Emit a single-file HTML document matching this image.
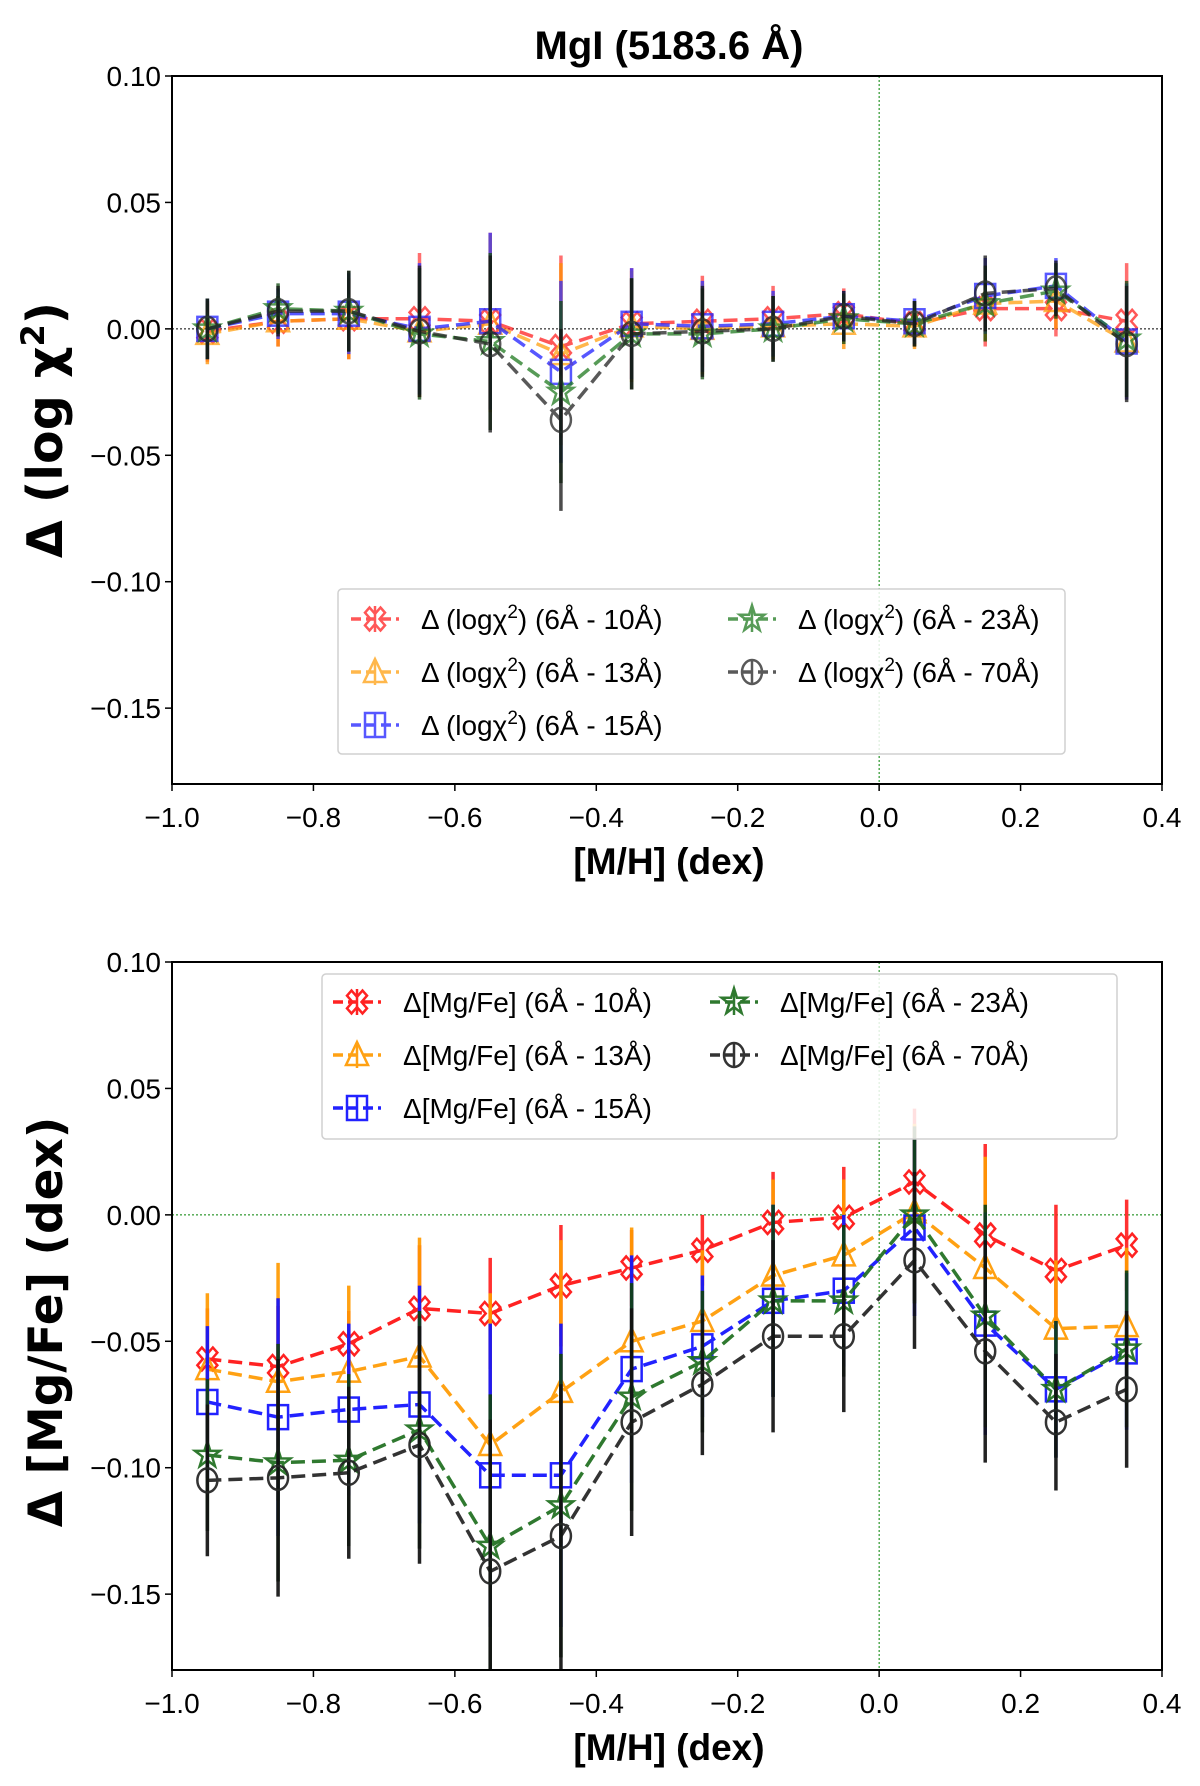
<!DOCTYPE html>
<html><head><meta charset="utf-8"><style>
html,body{margin:0;padding:0;background:#fff;}
svg{display:block;}
</style></head><body>
<svg id="fig" width="1200" height="1786" viewBox="0 0 1200 1786" xmlns="http://www.w3.org/2000/svg" font-family="'Liberation Sans', 'DejaVu Sans', sans-serif"></svg>
<script>
// ---------- data ----------
const xValues = [-0.95,-0.85,-0.75,-0.65,-0.55,-0.45,-0.35,-0.25,-0.15,-0.05,0.05,0.15,0.25,0.35];
const xTicks = [-1.0,-0.8,-0.6,-0.4,-0.2,0.0,0.2,0.4];
const xTickLabels = ["\u22121.0","\u22120.8","\u22120.6","\u22120.4","\u22120.2","0.0","0.2","0.4"];
const yTicks = [0.10,0.05,0.00,-0.05,-0.10,-0.15];
const yTickLabels = ["0.10","0.05","0.00","\u22120.05","\u22120.10","\u22120.15"];

const chiRed    = [-0.001,0.003,0.004,0.004,0.003,-0.007,0.002,0.003,0.004,0.006,0.002,0.008,0.008,0.003];
const chiOrange = [-0.002,0.003,0.004,-0.001,0.002,-0.010,0.001,0.000,0.001,0.002,0.001,0.010,0.011,-0.005];
const chiBlue   = [0.000,0.006,0.006,0.000,0.003,-0.017,0.002,0.001,0.002,0.005,0.003,0.013,0.017,-0.005];
const chiGreen  = [0.000,0.008,0.007,-0.002,-0.005,-0.025,-0.002,-0.002,0.000,0.004,0.002,0.010,0.015,-0.004];
const chiBlack  = [0.000,0.007,0.007,-0.001,-0.006,-0.036,-0.002,-0.001,0.000,0.005,0.002,0.014,0.016,-0.006];
const chiErr    = [0.012,0.010,0.016,0.026,0.035,0.036,0.022,0.018,0.013,0.010,0.009,0.015,0.011,0.023];

const mgRed    = [-0.057,-0.060,-0.051,-0.037,-0.039,-0.028,-0.021,-0.014,-0.003,-0.001,0.013,-0.008,-0.022,-0.012];
const mgOrange = [-0.061,-0.066,-0.062,-0.056,-0.091,-0.070,-0.050,-0.042,-0.024,-0.016,0.001,-0.021,-0.045,-0.044];
const mgBlue   = [-0.074,-0.080,-0.077,-0.075,-0.103,-0.103,-0.061,-0.052,-0.034,-0.030,-0.005,-0.043,-0.069,-0.054];
const mgGreen  = [-0.095,-0.098,-0.097,-0.085,-0.131,-0.115,-0.072,-0.058,-0.034,-0.034,0.000,-0.040,-0.069,-0.053];
const mgBlack  = [-0.105,-0.104,-0.102,-0.091,-0.141,-0.127,-0.082,-0.067,-0.048,-0.048,-0.018,-0.054,-0.082,-0.069];
const mgErrRed = [0.020,0.024,0.013,0.025,0.022,0.024,0.015,0.014,0.020,0.020,0.029,0.036,0.026,0.018];
const mgErr    = [0.030,0.047,0.034,0.047,0.060,0.060,0.045,0.028,0.038,0.030,0.035,0.044,0.027,0.031];

const seriesLabels = ["6\u00c5 - 10\u00c5","6\u00c5 - 13\u00c5","6\u00c5 - 15\u00c5","6\u00c5 - 23\u00c5","6\u00c5 - 70\u00c5"];

// ---------- drawing ----------
const NS="http://www.w3.org/2000/svg";
const svg=document.getElementById('fig');
function el(tag,attrs,parent){const e=document.createElementNS(NS,tag);for(const k in attrs)e.setAttribute(k,attrs[k]);(parent||svg).appendChild(e);return e;}
function txt(x,y,s,size,anchor,weight,parent){
  const t=el('text',{x:x,y:y,'font-size':size,'text-anchor':anchor||'middle','font-weight':weight||'normal',fill:'#000'},parent);
  t.textContent=s;return t;
}
const L=172,R=1162,XMIN=-1.0,XMAX=0.4,YMIN=-0.18,YMAX=0.10;
function xs(v){return L+(v-XMIN)/(XMAX-XMIN)*(R-L);}

function marker(g,type,cx,cy,color){
  const a={fill:'none',stroke:color,'stroke-width':2.5};
  let m;
  if(type==='x'){
    const s=10,w=4.5;
    const pts=[[-s,-s+w],[-s+w,-s],[0,-w],[s-w,-s],[s,-s+w],[w,0],[s,s-w],[s-w,s],[0,w],[-s+w,s],[-s,s-w],[-w,0]];
    m=el('polygon',Object.assign({points:pts.map(p=>(cx+p[0])+','+(cy+p[1]*1.15)).join(' ')},a),g);
  }else if(type==='tri'){
    m=el('polygon',Object.assign({points:`${cx},${cy-13} ${cx+11},${cy+10} ${cx-11},${cy+10}`},a),g);
  }else if(type==='sq'){
    m=el('rect',Object.assign({x:cx-10,y:cy-12,width:20,height:24},a),g);
  }else if(type==='star'){
    let p=[];for(let i=0;i<10;i++){const r=i%2?5:13;const an=-Math.PI/2+i*Math.PI/5;p.push((cx+r*Math.cos(an))+','+(cy+r*Math.sin(an)*1.05));}
    m=el('polygon',Object.assign({points:p.join(' ')},a),g);
  }else{
    m=el('ellipse',Object.assign({cx:cx,cy:cy,rx:10,ry:12},a),g);
  }
  return m;
}

function panel(top,bottom,name,ylabel,series,hline,legendBox,legendPrefix,alpha,legendDash){
  const g=el('g',{});
  
  
  function ys(v){return top+(YMAX-v)/(YMAX-YMIN)*(bottom-top);}
  const h=el('line',{x1:L,x2:R,y1:ys(0),y2:ys(0),stroke:hline,'stroke-width':1,'stroke-dasharray':'2,2'},g);
  
  const v=el('line',{x1:xs(0),x2:xs(0),y1:top,y2:bottom,stroke:'#008000','stroke-width':1,'stroke-dasharray':'2,2'},g);
  
  series.forEach((s,si)=>{
    const sg=el('g',{opacity:alpha},g);
    
    
    const pts=xValues.map((xv,i)=>xs(xv)+','+ys(s.y[i])).join(' ');
    const pl=el('polyline',{points:pts,fill:'none',stroke:s.color,'stroke-width':3.5,'stroke-dasharray':'14,7'},sg);
    
    xValues.forEach((xv,i)=>{
      const e=el('line',{x1:xs(xv),x2:xs(xv),y1:Math.max(top,ys(s.y[i]+s.err[i])),y2:Math.min(bottom,ys(s.y[i]-s.err[i])),stroke:s.ecolor,'stroke-width':3.5},sg);
      
      const m=marker(sg,s.m,xs(xv),ys(s.y[i]),s.color);
      
    });
  });
  const fr=el('rect',{x:L,y:top,width:R-L,height:bottom-top,fill:'none',stroke:'#000','stroke-width':2},g);
  
  xTicks.forEach((t,i)=>{
    el('line',{x1:xs(t),x2:xs(t),y1:bottom,y2:bottom+7,stroke:'#000','stroke-width':1.5},g);
    const tl=txt(xs(t),bottom+43,xTickLabels[i],28,'middle','normal',g);
    
  });
  yTicks.forEach((t,i)=>{
    el('line',{x1:L-7,x2:L,y1:ys(t),y2:ys(t),stroke:'#000','stroke-width':1.5},g);
    const tl=txt(L-11,ys(t)+10,yTickLabels[i],28,'end','normal',g);
    
  });
  const xl=txt(669,bottom+90,'[M/H] (dex)',37,'middle','bold',g);
  
  const yl=el('text',{x:0,y:0,'font-size':ylabel.size,'font-weight':'bold','font-family':"'DejaVu Sans', sans-serif",'text-anchor':'middle',transform:`translate(62,${ylabel.cy}) rotate(-90)`,fill:'#000'},g);
  yl.innerHTML=ylabel.html;
  
  const lb=legendBox;
  const lg=el('g',{},g);
  
  el('rect',{x:lb.x,y:lb.y,width:lb.w,height:lb.h,rx:4,fill:'#fff','fill-opacity':0.85,stroke:'#d0d0d0','stroke-width':1.5},lg);
  series.forEach((s,si)=>{
    const col=si<3?0:1,row=si<3?si:si-3;
    const mx=lb.mx[col],ty=lb.rows[row];
    const eg=el('g',{},lg);
    
    const sub=el('g',{opacity:alpha},eg);
    el('line',{x1:mx-24,x2:mx+24,y1:ty,y2:ty,stroke:s.color,'stroke-width':3.5,'stroke-dasharray':legendDash},sub);
    el('line',{x1:mx,x2:mx,y1:ty-13,y2:ty+13,stroke:s.color,'stroke-width':2.5},sub);
    marker(sub,s.m,mx,ty,s.color);
    const t=el('text',{x:mx+46,y:ty+10,'font-size':28,fill:'#000'},eg);
    t.innerHTML=legendPrefix+' ('+seriesLabels[si]+')';
  });
}

const title=txt(669,59,'MgI (5183.6 \u00c5)',40,'middle','bold');


panel(76,784,'chi2-panel',{cy:430,size:49,html:'\u0394 (log \u03c7<tspan dy="-18" font-size="32">2</tspan><tspan dy="18">)</tspan>'},[
 {key:'10A',y:chiRed,err:chiErr,color:'#ff2020',ecolor:'#ff4040',m:'x'},
 {key:'13A',y:chiOrange,err:chiErr,color:'#ffa010',ecolor:'#ff9000',m:'tri'},
 {key:'15A',y:chiBlue,err:chiErr,color:'#2020ff',ecolor:'#3030ff',m:'sq'},
 {key:'23A',y:chiGreen,err:chiErr,color:'#1f7a1f',ecolor:'#0f4a0f',m:'star'},
 {key:'70A',y:chiBlack,err:chiErr,color:'#222',ecolor:'#111',m:'circ'}
],'#000',{x:338,y:589,w:727,h:165,mx:[375,752],rows:[619,672,725]},'\u0394 (log\u03c7<tspan dy="-11" font-size="19">2</tspan><tspan dy="11">)</tspan>',0.75,'10,5');

panel(962,1670,'mgfe-panel',{cy:1322,size:47,html:'\u0394 [Mg/Fe] (dex)'},[
 {key:'10A',y:mgRed,err:mgErrRed,color:'#ff1010',ecolor:'#ff2020',m:'x'},
 {key:'13A',y:mgOrange,err:mgErr,color:'#ff9a00',ecolor:'#ff9a00',m:'tri'},
 {key:'15A',y:mgBlue,err:mgErr,color:'#1010ff',ecolor:'#1010ff',m:'sq'},
 {key:'23A',y:mgGreen,err:mgErr,color:'#1e6e1e',ecolor:'#104010',m:'star'},
 {key:'70A',y:mgBlack,err:mgErr,color:'#222',ecolor:'#111',m:'circ'}
],'#008000',{x:322,y:974,w:795,h:165,mx:[357,734],rows:[1002,1055,1108]},'\u0394[Mg/Fe]',0.92,'10,5');
</script>
</body></html>
